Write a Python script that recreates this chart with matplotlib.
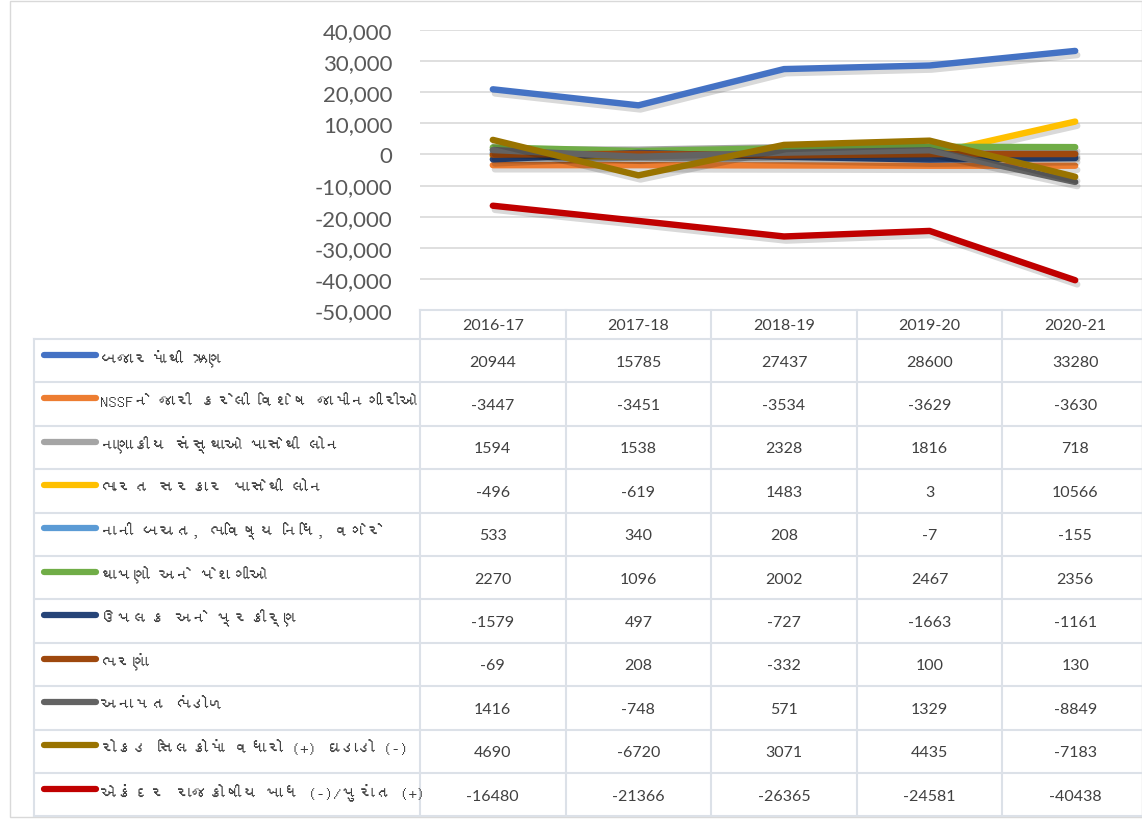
import matplotlib
matplotlib.use("Agg")
import matplotlib.pyplot as plt
import matplotlib.patheffects as pe
from matplotlib import font_manager
from matplotlib.ticker import FuncFormatter
from matplotlib.patches import Rectangle

# ---------------- data ----------------
years = ["2016-17", "2017-18", "2018-19", "2019-20", "2020-21"]
series_names = [
    "બજારમાંથી ઋણ",
    "NSSFને જારી કરેલી વિશેષ જામીનગીરીઓ",
    "નાણાકીય સંસ્થાઓ પાસેથી લોન",
    "ભારત સરકાર પાસેથી લોન",
    "નાની બચત, ભવિષ્ય નિધિ, વગેરે",
    "થાપણો અને પેશગીઓ",
    "ઉપલક અને પ્રકીર્ણ",
    "ભરણાં",
    "અનામત ભંડોળ",
    "રોકડ સિલકોમાં વધારો (+) ઘડાડો (-)",
    "એકંદર રાજકોષીય ખાધ (-)/પુરાંત (+)",
]
market_borrowing = [20944, 15785, 27437, 28600, 33280]
nssf = [-3447, -3451, -3534, -3629, -3630]
fin_inst_loans = [1594, 1538, 2328, 1816, 718]
goi_loans = [-496, -619, 1483, 3, 10566]
small_savings = [533, 340, 208, -7, -155]
deposits = [2270, 1096, 2002, 2467, 2356]
suspense = [-1579, 497, -727, -1663, -1161]
remittances = [-69, 208, -332, 100, 130]
reserve_funds = [1416, -748, 571, 1329, -8849]
cash_balance = [4690, -6720, 3071, 4435, -7183]
fiscal_deficit = [-16480, -21366, -26365, -24581, -40438]
series_values = [market_borrowing, nssf, fin_inst_loans, goi_loans, small_savings,
                 deposits, suspense, remittances, reserve_funds, cash_balance,
                 fiscal_deficit]
colors = ["#4472C4", "#ED7D31", "#A5A5A5", "#FFC000", "#5B9BD5", "#70AD47",
          "#264478", "#9E480E", "#636363", "#997300", "#C00000"]

# ---------------- fonts ----------------
guj_family = None
try:
    from fontTools.ttLib import TTFont
    for f in font_manager.fontManager.ttflist:
        try:
            tt = TTFont(f.fname, fontNumber=0, lazy=True)
            cmap = tt.getBestCmap()
            if cmap and 0x0A95 in cmap:
                guj_family = f.name
                break
        except Exception:
            pass
except Exception:
    pass

num_family = ["Lato", "DejaVu Sans"]
label_family = ([guj_family] if guj_family else []) + ["Lato", "DejaVu Sans"]
plt.rcParams["font.family"] = num_family

W, H = 1142, 820
fig = plt.figure(figsize=(W / 100, H / 100), dpi=100)
fig.patch.set_facecolor("white")

# pixel layout
plot_left, plot_top, plot_bottom = 420, 31, 311
col_w = 145.6
table_top = 311
header_bottom = 340
row_h = 43.4
table_left = 34
n_rows = len(series_names)

x_max = (W - plot_left) / col_w - 0.5
ax = fig.add_axes([plot_left / W, 1 - plot_bottom / H,
                   (W - plot_left) / W, (plot_bottom - plot_top) / H])
ax.set_xlim(-0.5, x_max)
ax.set_ylim(-50000, 40000)
ax.set_yticks(range(-50000, 40001, 10000))
ax.yaxis.set_major_formatter(FuncFormatter(lambda v, p: f"{int(v):,}"))
ax.tick_params(axis="y", length=0, labelsize=16, labelcolor="#595959", pad=20)
ax.set_xticks([])
for s in ax.spines.values():
    s.set_visible(False)
ax.grid(axis="y", color="#D9D9D9", linewidth=1.2)
ax.set_axisbelow(True)

xs = list(range(len(years)))
for vals, c in zip(series_values, colors):
    ax.plot(xs, vals, color=c, linewidth=4.6, solid_capstyle="round",
            solid_joinstyle="round",
            path_effects=[pe.SimpleLineShadow(offset=(1.5, -3), alpha=0.15,
                                              shadow_color="black"),
                          pe.Normal()])

# ---------------- table (overlay axes in pixel coords) ----------------
tax = fig.add_axes([0, 0, 1, 1])
tax.set_xlim(0, W)
tax.set_ylim(H, 0)
tax.axis("off")
tax.patch.set_alpha(0)

grid_c = "#DCE1E8"
# outer chart border
tax.add_patch(Rectangle((10, 2), W - 10, H - 4, fill=False, edgecolor="#D9D9D9", lw=1))

table_bottom = header_bottom + row_h * n_rows
# horizontal lines
tax.plot([plot_left, W], [table_top, table_top], color=grid_c, lw=1.5)
for r in range(n_rows + 1):
    y = header_bottom + r * row_h
    tax.plot([table_left, W], [y, y], color=grid_c, lw=1.5)
# vertical lines
tax.plot([table_left, table_left], [header_bottom, table_bottom], color=grid_c, lw=1.5)
for i in range(len(years)):
    x = plot_left + i * col_w
    tax.plot([x, x], [table_top, table_bottom], color=grid_c, lw=1.5)

# header
for i, yr in enumerate(years):
    tax.text(plot_left + (i + 0.5) * col_w, (table_top + header_bottom) / 2 + 1, yr,
             ha="center", va="center", fontsize=11.5, color="#404040")

# rows
for r, (name, vals, c) in enumerate(zip(series_names, series_values, colors)):
    yc = header_bottom + (r + 0.5) * row_h
    tax.plot([44, 96], [yc - 6, yc - 6], color=c, lw=4.5, solid_capstyle="round")
    tax.text(100, yc - 4, name, ha="left", va="center", fontsize=12,
             color="#404040", family=label_family)
    for i, v in enumerate(vals):
        tax.text(plot_left + (i + 0.5) * col_w, yc + 1, str(v), ha="center",
                 va="center", fontsize=11.5, color="#404040")

fig.savefig("out.png", dpi=100, facecolor="white")
